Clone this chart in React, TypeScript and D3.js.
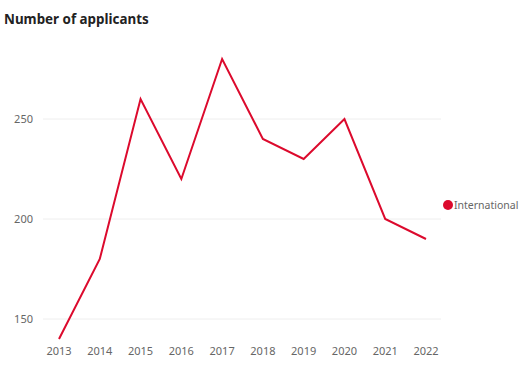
import React from "react";
import * as d3 from "d3";

const years = ["2013","2014","2015","2016","2017","2018","2019","2020","2021","2022"];
const international = [140, 180, 260, 220, 280, 240, 230, 250, 200, 190];
const yTicks = [150, 200, 250];
const seriesName = "International";
const title = "Number of applicants";

export default function App() {
  const W = 528, H = 376;
  const x = d3.scalePoint<string>().domain(years).range([59, 426]);
  const y = d3.scaleLinear().domain([150, 250]).range([319, 119]);
  const line = d3.line<number>().x((_, i) => x(years[i])!).y(d => y(d));
  const font = "'Noto Sans', sans-serif";
  return (
    <svg width={W} height={H} style={{ position: "absolute", left: 0, top: 0, background: "#fff" }} fontFamily={font}>
      <text x={4} y={24} fontSize={13.4} fontWeight="bold" fill="#222">{title}</text>
      {yTicks.map(t => (
        <g key={t}>
          <line x1={43} x2={441} y1={y(t)} y2={y(t)} stroke="#eeeeee" strokeWidth={1} />
          <text x={33} y={y(t) + 4} fontSize={11} fill="#666" textAnchor="end">{t}</text>
        </g>
      ))}
      {years.map(yr => (
        <text key={yr} x={x(yr)!} y={355} fontSize={11} fill="#666" textAnchor="middle">{yr}</text>
      ))}
      <path d={line(international)!} fill="none" stroke="#dc0a2d" strokeWidth={2} strokeLinejoin="miter" />
      <circle cx={448} cy={205} r={5} fill="#dc0a2d" />
      <text x={454} y={209} fontSize={10.5} fill="#666">{seriesName}</text>
    </svg>
  );
}
